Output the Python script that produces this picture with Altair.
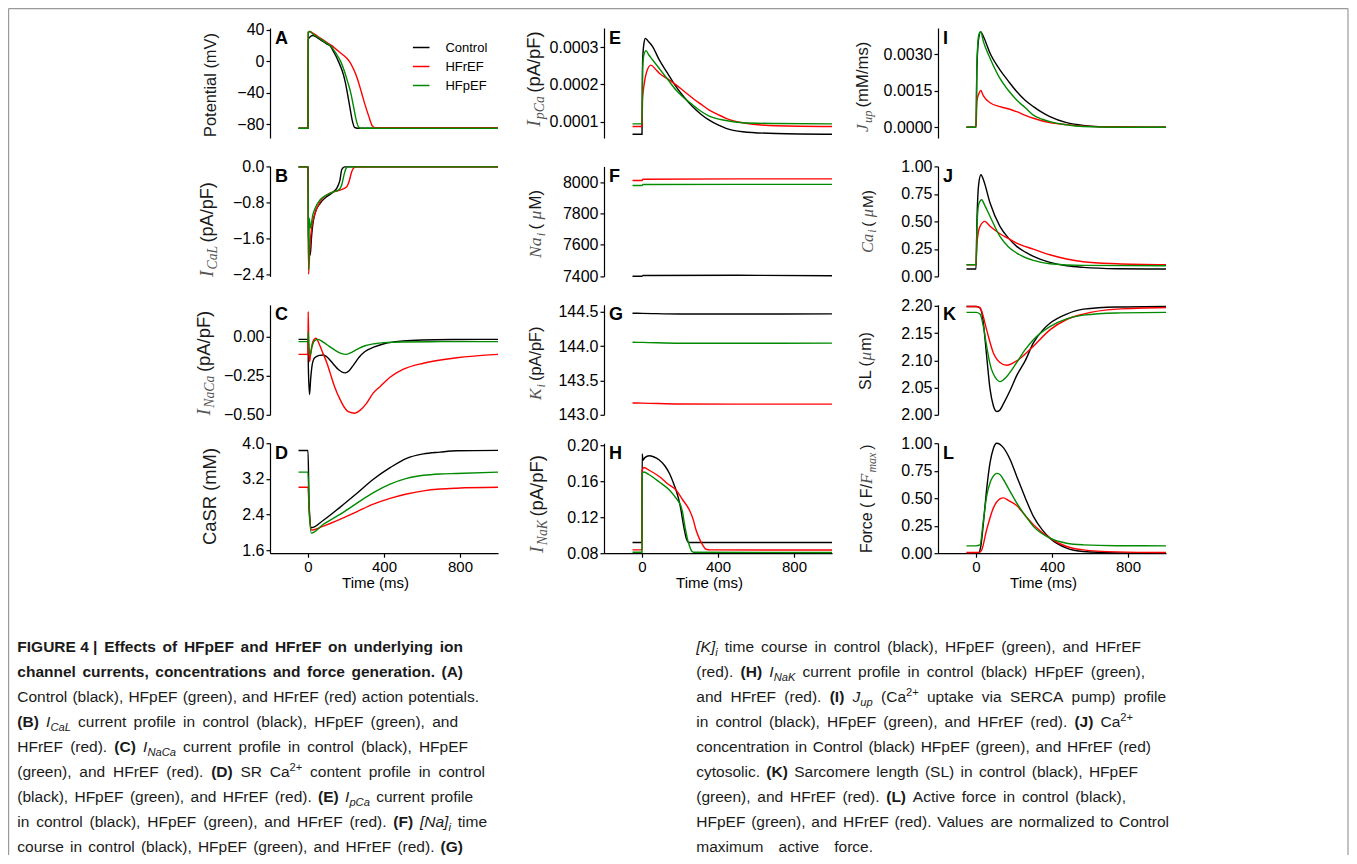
import altair as alt
import pandas as pd

# ------------------------------------------------------------------ data
SERIES = ["Control", "HFrEF", "HFpEF"]
COLORS = ["#000000", "#ff0000", "#008a00"]
TIME_DOMAIN = [-200, 1000]
TIME_TICKS = [0, 400, 800]

# (A) membrane potential, mV
A_T_CTRL = [-50, 0, 1, 10, 25, 50, 75, 100, 116, 140, 160, 180, 195, 207, 220, 232, 245, 260, 1000]
A_V_CTRL = [-85, -85, 28, 31, 33, 30, 26, 22, 20, 10, 0, -12, -25, -40, -58, -74, -84, -85, -85]
A_T_HFR = [-50, 0, 1, 10, 25, 50, 75, 100, 125, 150, 175, 200, 218, 240, 260, 282, 300, 320, 338, 355, 1000]
A_V_HFR = [-85, -85, 37, 38, 36, 32, 28, 24, 20, 15, 10, 5, 0, -10, -22, -40, -55, -70, -82, -84.5, -84.5]
A_T_HFP = [-50, 0, 1, 10, 25, 50, 75, 100, 119, 145, 172, 195, 210, 225, 240, 255, 268, 280, 1000]
A_V_HFP = [-85, -85, 37, 38, 35, 31, 27, 23, 20, 11, 0, -15, -27, -40, -58, -76, -84, -85, -85]

# (B) I_CaL, pA/pF
B_T_CTRL = [-50, 0, 2, 8, 12, 18, 25, 37, 63, 98, 133, 151, 160, 168, 177, 186, 195, 1000]
B_V_CTRL = [0, 0, -1.5, -1.9, -1.97, -1.6, -1.3, -1.04, -0.82, -0.67, -0.56, -0.48, -0.4, -0.3, -0.07, -0.015, 0, 0]
B_T_HFR = [-50, 0, 3, 10, 19, 37, 63, 98, 133, 168, 203, 212, 218, 230, 242, 256, 1000]
B_V_HFR = [0, 0, -2.4, -1.78, -1.37, -1.04, -0.78, -0.63, -0.56, -0.52, -0.45, -0.38, -0.3, -0.11, -0.02, 0, 0]
B_T_HFP = [-50, 0, 3, 7, 12, 25, 37, 63, 98, 133, 160, 177, 189, 200, 212, 1000]
B_V_HFP = [0, 0, -2.3, -1.15, -1.37, -1.08, -0.93, -0.74, -0.63, -0.56, -0.52, -0.41, -0.19, -0.04, 0, 0]

# (C) I_NaCa, pA/pF
C_T_CTRL = [-50, 0, 2, 8, 14, 22, 35, 60, 81, 100, 130, 160, 195, 215, 240, 270, 300, 350, 400, 450, 500, 600, 800, 1000]
C_V_CTRL = [-0.017, -0.017, -0.2, -0.37, -0.27, -0.18, -0.135, -0.12, -0.117, -0.13, -0.17, -0.21, -0.232, -0.22,
            -0.18, -0.13, -0.095, -0.065, -0.045, -0.034, -0.027, -0.021, -0.018, -0.017]
C_T_HFR = [-50, 0, 1, 4, 8, 13, 20, 30, 42, 60, 80, 100, 116, 140, 168, 190, 212, 247, 275, 309, 344, 379, 432,
           500, 607, 782, 1000]
C_V_HFR = [-0.113, -0.113, 0.16, -0.05, -0.16, -0.12, -0.06, -0.02, -0.01, -0.05, -0.11, -0.17, -0.23, -0.32,
           -0.40, -0.45, -0.48, -0.49, -0.47, -0.425, -0.36, -0.32, -0.26, -0.21, -0.17, -0.135, -0.113]
C_T_HFP = [-50, 0, 1, 4, 12, 20, 35, 54, 80, 110, 140, 170, 203, 230, 260, 300, 350, 400, 500, 700, 1000]
C_V_HFP = [-0.032, -0.032, 0.03, -0.05, -0.117, -0.07, -0.025, -0.017, -0.035, -0.06, -0.085, -0.105, -0.113,
           -0.1, -0.08, -0.058, -0.045, -0.038, -0.034, -0.032, -0.032]

# (D) CaSR, mM
D_T = [-50, 0, 6, 18, 81, 168, 256, 344, 432, 519, 607, 695, 782, 1000]
D_V_CTRL = [3.835, 3.835, 2.6, 2.10, 2.27, 2.56, 2.87, 3.19, 3.45, 3.66, 3.76, 3.80, 3.83, 3.84]
D_V_HFR = [3.01, 3.01, 2.5, 2.05, 2.14, 2.29, 2.46, 2.63, 2.76, 2.86, 2.93, 2.97, 2.99, 3.01]
D_V_HFP = [3.35, 3.35, 2.5, 1.98, 2.18, 2.40, 2.65, 2.89, 3.08, 3.21, 3.28, 3.31, 3.32, 3.35]

# (E) I_pCa, pA/pF
E_T_CTRL = [-50, 0, 3, 10, 18, 30, 56, 91, 135, 179, 223, 267, 310, 354, 400, 442, 530, 705, 1000]
E_V_CTRL = [6.6e-5, 6.6e-5, 2.6e-4, 3.1e-4, 3.24e-4, 3.18e-4, 3.02e-4, 2.66e-4, 2.3e-4, 1.94e-4, 1.65e-4,
            1.4e-4, 1.2e-4, 1.04e-4, 9.1e-5, 8.2e-5, 7.3e-5, 6.8e-5, 6.6e-5]
E_T_HFR = [-50, 0, 3, 12, 25, 47, 70, 91, 135, 179, 223, 267, 310, 354, 400, 442, 530, 705, 1000]
E_V_HFR = [8.7e-5, 8.7e-5, 1.6e-4, 2.03e-4, 2.35e-4, 2.52e-4, 2.42e-4, 2.3e-4, 2.15e-4, 1.99e-4, 1.81e-4,
           1.63e-4, 1.47e-4, 1.31e-4, 1.19e-4, 1.09e-4, 9.7e-5, 8.9e-5, 8.7e-5]
E_T_HFP = [-50, 0, 3, 10, 21, 35, 56, 91, 135, 179, 223, 267, 310, 354, 442, 530, 705, 1000]
E_V_HFP = [9.4e-5, 9.4e-5, 2.4e-4, 2.8e-4, 2.91e-4, 2.8e-4, 2.66e-4, 2.43e-4, 2.14e-4, 1.85e-4, 1.63e-4,
           1.45e-4, 1.28e-4, 1.15e-4, 1.03e-4, 9.7e-5, 9.5e-5, 9.4e-5]

# (F) Na_i, uM
F_T = [-50, 0, 5, 500, 1000]
F_V_CTRL = [7399, 7399, 7404, 7405, 7402]
F_V_HFR = [8011, 8011, 8019, 8021, 8021]
F_V_HFP = [7979, 7979, 7985, 7986, 7986]

# (G) K_i
G_T = [-50, 0, 200, 500, 1000]
G_V_CTRL = [144.478, 144.476, 144.466, 144.466, 144.468]
G_V_HFR = [143.172, 143.17, 143.157, 143.155, 143.155]
G_V_HFP = [144.055, 144.053, 144.04, 144.04, 144.043]

# (H) I_NaK, pA/pF
H_T_CTRL = [-50, 0, 1, 5, 15, 38, 60, 91, 120, 144, 165, 179, 193, 205, 215, 223, 232, 240, 250, 1000]
H_V_CTRL = [0.0918, 0.0918, 0.19, 0.183, 0.186, 0.188, 0.187, 0.1834, 0.177, 0.1686, 0.158, 0.150, 0.14, 0.128,
            0.115, 0.1058, 0.097, 0.093, 0.0918, 0.0918]
H_T_HFR = [-50, 0, 1, 10, 38, 91, 135, 179, 215, 249, 270, 284, 300, 319, 337, 360, 1000]
H_V_HFR = [0.0837, 0.0837, 0.172, 0.175, 0.172, 0.165, 0.157, 0.150, 0.139, 0.128, 0.117, 0.106, 0.097, 0.0892,
           0.0844, 0.0837, 0.0835]
H_T_HFP = [-50, 0, 1, 10, 38, 91, 144, 179, 205, 215, 223, 232, 240, 250, 258, 270, 1000]
H_V_HFP = [0.081, 0.081, 0.168, 0.170, 0.167, 0.159, 0.150, 0.141, 0.132, 0.124, 0.113, 0.103, 0.095, 0.088,
           0.0837, 0.081, 0.0808]

# (I) J_up, mM/ms
I_T_CTRL = [-50, 0, 5, 15, 25, 39, 74, 126, 170, 214, 260, 302, 350, 389, 477, 565, 740, 1000]
I_V_CTRL = [0, 0, 0.0025, 0.0037, 0.00393, 0.00373, 0.00304, 0.00236, 0.0019, 0.00147, 0.0011, 0.00085, 0.0006,
            0.00044, 0.00019, 0.00008, 0.00001, 0]
I_T_HFR = [-50, 0, 5, 16, 25, 39, 74, 126, 179, 214, 267, 302, 389, 477, 565, 740, 1000]
I_V_HFR = [0, 0, 0.0011, 0.0014, 0.00151, 0.00129, 0.00101, 0.00085, 0.00074, 0.00064, 0.00047, 0.00037,
           0.00019, 0.00011, 0.00005, 0.00001, 0]
I_T_HFP = [-50, 0, 5, 15, 25, 39, 74, 126, 170, 214, 260, 302, 350, 389, 477, 565, 740, 1000]
I_V_HFP = [0, 0, 0.0027, 0.0038, 0.00393, 0.00352, 0.00284, 0.00201, 0.00152, 0.00112, 0.0008, 0.0005, 0.00033,
           0.00023, 0.0001, 0.00003, 0, 0]

# (J) Ca_i, uM
J_T_CTRL = [-50, 0, 5, 15, 26, 39, 74, 126, 170, 214, 260, 302, 389, 477, 565, 740, 1000]
J_V_CTRL = [0.067, 0.067, 0.5, 0.85, 0.924, 0.879, 0.667, 0.455, 0.35, 0.273, 0.22, 0.182, 0.127, 0.097, 0.082,
            0.07, 0.067]
J_T_HFR = [-50, 0, 5, 20, 47, 74, 126, 170, 214, 302, 389, 477, 565, 740, 1000]
J_V_HFR = [0.106, 0.106, 0.3, 0.45, 0.5, 0.455, 0.388, 0.345, 0.303, 0.248, 0.197, 0.158, 0.133, 0.115, 0.106]
J_T_HFP = [-50, 0, 5, 15, 30, 45, 74, 126, 170, 214, 302, 389, 565, 1000]
J_V_HFP = [0.106, 0.106, 0.45, 0.66, 0.697, 0.65, 0.545, 0.364, 0.27, 0.212, 0.145, 0.115, 0.1, 0.097]

# (K) sarcomere length, um
K_T_CTRL = [-50, 0, 21, 30, 39, 56, 74, 91, 109, 126, 144, 180, 214, 260, 302, 350, 389, 477, 565, 740, 1000]
K_V_CTRL = [2.199, 2.199, 2.196, 2.188, 2.168, 2.108, 2.047, 2.017, 2.006, 2.009, 2.02, 2.045, 2.072, 2.10, 2.132,
            2.155, 2.168, 2.185, 2.194, 2.198, 2.199]
K_T_HFR = [-50, 0, 21, 30, 56, 91, 126, 161, 214, 260, 302, 389, 477, 565, 740, 1000]
K_V_HFR = [2.199, 2.199, 2.197, 2.19, 2.156, 2.114, 2.096, 2.091, 2.099, 2.112, 2.126, 2.156, 2.175, 2.185, 2.194,
           2.197]
K_T_HFP = [-50, 0, 21, 39, 56, 74, 109, 126, 161, 214, 260, 302, 389, 477, 565, 740, 1000]
K_V_HFP = [2.188, 2.188, 2.185, 2.162, 2.126, 2.093, 2.065, 2.061, 2.07, 2.096, 2.12, 2.138, 2.162, 2.176, 2.183,
           2.187, 2.188]

# (L) active force, F/Fmax
L_T_CTRL = [-50, 0, 12, 25, 39, 56, 74, 91, 109, 126, 144, 180, 214, 260, 302, 350, 389, 477, 565, 740, 1000]
L_V_CTRL = [0, 0, 0, 0.06, 0.274, 0.58, 0.823, 0.95, 1.0, 0.99, 0.96, 0.85, 0.70, 0.5, 0.335, 0.21, 0.137, 0.046,
            0.015, 0.003, 0]
L_T_HFR = [-50, 0, 21, 30, 56, 91, 126, 144, 170, 214, 260, 302, 389, 477, 565, 740, 1000]
L_V_HFR = [0.006, 0.006, 0.01, 0.03, 0.213, 0.41, 0.494, 0.503, 0.48, 0.433, 0.34, 0.259, 0.137, 0.061, 0.03,
           0.012, 0.006]
L_T_HFP = [-50, 0, 21, 39, 56, 74, 91, 109, 126, 144, 180, 214, 260, 302, 389, 477, 565, 740, 1000]
L_V_HFP = [0.067, 0.067, 0.075, 0.3, 0.518, 0.64, 0.70, 0.726, 0.715, 0.67, 0.56, 0.457, 0.34, 0.244, 0.137,
           0.091, 0.076, 0.068, 0.067]

# y axes: domain, tick values, tick format
Y_DOMAINS = {"A": [-97.5, 42.5], "B": [-2.45, 0.01], "C": [-0.5, 0.204], "D": [1.53, 4.0],
             "E": [0.000056, 0.000352], "F": [7398, 8101], "G": [143.0, 144.6], "H": [0.08, 0.202],
             "I": [-0.00044, 0.00408], "J": [0.0, 1.0], "K": [2.0, 2.202], "L": [0.0, 1.0]}
Y_TICKS = {"A": [-80, -40, 0, 40], "B": [-2.4, -1.6, -0.8, 0.0], "C": [-0.5, -0.25, 0.0],
           "D": [1.6, 2.4, 3.2, 4.0], "E": [0.0001, 0.0002, 0.0003], "F": [7400, 7600, 7800, 8000],
           "G": [143.0, 143.5, 144.0, 144.5], "H": [0.08, 0.12, 0.16, 0.20], "I": [0.0, 0.0015, 0.003],
           "J": [0, 0.25, 0.5, 0.75, 1.0], "K": [2.0, 2.05, 2.1, 2.15, 2.2], "L": [0, 0.25, 0.5, 0.75, 1.0]}
Y_FORMATS = {"A": "d", "B": ".1f", "C": ".2f", "D": ".1f", "E": ".4f", "F": "d", "G": ".1f", "H": ".2f",
             "I": ".4f", "J": ".2f", "K": ".2f", "L": ".2f"}

SERIES_DATA = {
    "A": ((A_T_CTRL, A_V_CTRL), (A_T_HFR, A_V_HFR), (A_T_HFP, A_V_HFP)),
    "B": ((B_T_CTRL, B_V_CTRL), (B_T_HFR, B_V_HFR), (B_T_HFP, B_V_HFP)),
    "C": ((C_T_CTRL, C_V_CTRL), (C_T_HFR, C_V_HFR), (C_T_HFP, C_V_HFP)),
    "D": ((D_T, D_V_CTRL), (D_T, D_V_HFR), (D_T, D_V_HFP)),
    "E": ((E_T_CTRL, E_V_CTRL), (E_T_HFR, E_V_HFR), (E_T_HFP, E_V_HFP)),
    "F": ((F_T, F_V_CTRL), (F_T, F_V_HFR), (F_T, F_V_HFP)),
    "G": ((G_T, G_V_CTRL), (G_T, G_V_HFR), (G_T, G_V_HFP)),
    "H": ((H_T_CTRL, H_V_CTRL), (H_T_HFR, H_V_HFR), (H_T_HFP, H_V_HFP)),
    "I": ((I_T_CTRL, I_V_CTRL), (I_T_HFR, I_V_HFR), (I_T_HFP, I_V_HFP)),
    "J": ((J_T_CTRL, J_V_CTRL), (J_T_HFR, J_V_HFR), (J_T_HFP, J_V_HFP)),
    "K": ((K_T_CTRL, K_V_CTRL), (K_T_HFR, K_V_HFR), (K_T_HFP, K_V_HFP)),
    "L": ((L_T_CTRL, L_V_CTRL), (L_T_HFR, L_V_HFR), (L_T_HFP, L_V_HFP)),
}

# y-axis titles: (text, kind) with kind sans / it (serif italic) / sub (serif italic subscript)
Y_TITLES = {
    "A": [("Potential (mV)", "sans")],
    "B": [("I", "it"), ("CaL", "sub"), (" (pA/pF)", "sans")],
    "C": [("I", "it"), ("NaCa", "sub"), (" (pA/pF)", "sans")],
    "D": [("CaSR (mM)", "sans")],
    "E": [("I", "it"), ("pCa", "sub"), (" (pA/pF)", "sans")],
    "F": [("Na", "it"), ("i", "sub"), (" (", "sans"), ("\u03bc", "it"), ("M)", "sans")],
    "G": [("K", "it"), ("i", "sub"), (" (pA/pF)", "sans")],
    "H": [("I", "it"), ("NaK", "sub"), (" (pA/pF)", "sans")],
    "I": [("J", "it"), ("up", "sub"), (" (mM/ms)", "sans")],
    "J": [("Ca", "it"), ("i", "sub"), (" (", "sans"), ("\u03bc", "it"), ("M)", "sans")],
    "K": [("SL (", "sans"), ("\u03bc", "it"), ("m)", "sans")],
    "L": [("Force ( F/", "sans"), ("F", "it"), ("max", "sub"), (" )", "sans")],
}

# caption text ("*" bold word, "/" italic word, "_" subscript, "^" superscript, "~" kept space)
CAPTION_LEFT = [
    "*FIGURE~4~| *Effects *of *HFpEF *and *HFrEF *on *underlying *ion",
    "*channel *currents, *concentrations *and *force *generation. *(A)",
    "Control (black), HFpEF (green), and HFrEF (red) action potentials.",
    "*(B) /I_CaL current profile in control (black), HFpEF (green), and",
    "HFrEF (red). *(C) /I_NaCa current profile in control (black), HFpEF",
    "(green), and HFrEF (red). *(D) SR Ca^2+ content profile in control",
    "(black), HFpEF (green), and HFrEF (red). *(E) /I_pCa current profile",
    "in control (black), HFpEF (green), and HFrEF (red). *(F) /[Na]_i time",
    "course in control (black), HFpEF (green), and HFrEF (red). *(G)",
]
CAPTION_RIGHT = [
    "/[K]_i time course in control (black), HFpEF (green), and HFrEF",
    "(red). *(H) /I_NaK current profile in control (black) HFpEF (green),",
    "and HFrEF (red). *(I) /J_up (Ca^2+ uptake via SERCA pump) profile",
    "in control (black), HFpEF (green), and HFrEF (red). *(J) Ca^2+",
    "concentration in Control (black) HFpEF (green), and HFrEF (red)",
    "cytosolic. *(K) Sarcomere length (SL) in control (black), HFpEF",
    "(green), and HFrEF (red). *(L) Active force in control (black),",
    "HFpEF (green), and HFrEF (red). Values are normalized to Control",
    "maximum active force.",
]

# ------------------------------------------------------------------ layout / style
PW, PH = 228, 110
COL_GAP, ROW_GAP = 106, 28.4
OX, OY = 270, 28                      # page position of panel A plot area
SANS = "Liberation Sans"
SERIF = "Liberation Serif"
INK = "#1a1a1a"
MATH_INK = "#555555"
CAP_FS = 15.5
TITLE_FS = 16
MATH_FS = 17
SUB_FS = 12
SUB_GAP = 3
TITLE_K_MAX = 1.15

CAP_LEFT_X, CAP_RIGHT_X = 17.3, 696.3
CAP_LEFT_END = [463, 463, 479, 458, 468, 485, 473, 487, 463]
CAP_RIGHT_END = [1141, 1145, 1166, 1133, 1151, 1138, 1126, 1169, 873]
CAP_Y0, CAP_DY = 652, 25

# y-title placement: centre x and vertical extent (page px) of each rotated title
TITLE_X = {"A": 210, "B": 206, "C": 203, "D": 209, "E": 533, "F": 535, "G": 535, "H": 536,
           "I": 862, "J": 867, "K": 865, "L": 866}
TITLE_SPAN = {"A": (33, 137), "B": (177, 277), "C": (303, 418), "D": (445, 548), "E": (15, 138),
              "F": (190, 258), "G": (322, 400), "H": (450, 553), "I": (37, 132), "J": (190, 253),
              "K": (332, 390), "L": (440, 553)}


def _tbl(spec):
    d = {}
    for chars, w in spec:
        for c in chars:
            d[c] = w
    return d


W_SANS = _tbl([(" ,.:;/[]!ftI", 278), ("ijl", 222), ("r()-", 333), ("cksvxyzJ", 500),
               ("abdeghnopqu0123456789L", 556), ("ABEKPSVXY", 667), ("FTZ", 611),
               ("CDHNRUw", 722), ("GOQ", 778), ("mM", 833), ("W", 944), ("+", 584), ("|", 260),
               ("\u03bc", 577)])
W_BOLD = _tbl([(" ,.:;/[]!ijlI", 278), ("ft()-", 333), ("r", 389), ("z", 500),
               ("acesvxyk0123456789J", 556), ("bdghnopqu", 611), ("FTZL", 611), ("EPSVXY", 667),
               ("ABCDHKNRU", 722), ("wGOQ", 778), ("M", 833), ("m", 889), ("W", 944), ("|", 280)])
W_SERIF_IT = _tbl([(" ", 250), ("I", 333), ("CNK", 667), ("aupS\u03bc", 500), ("L", 556), ("J", 444),
                   ("i", 278), ("F", 611), ("m", 722), ("x", 444)])


def text_w(s, table, fs):
    return sum(table.get(c, 556) for c in s) * fs / 1000.0


# ------------------------------------------------------------------ overlay (titles, letters, caption, frame)
overlay_rows = []


def add_text(X, Y, text, size, kind, color=INK, angle=0):
    overlay_rows.append({"px": X - OX, "py": Y - OY, "text": text, "size": size, "kind": kind,
                         "color": color, "angle": angle})


letters = [["A", "E", "I"], ["B", "F", "J"], ["C", "G", "K"], ["D", "H", "L"]]
for r in range(4):
    for c in range(3):
        add_text(OX + c * (PW + COL_GAP) + 5, OY + r * (PH + ROW_GAP) + 15.5, letters[r][c], 18, "bold",
                 color="#000000")


def title_pieces(segs, k):
    out = []
    for text, kind in segs:
        if kind == "sans":
            fs = TITLE_FS * k
            out.append((text, fs, text_w(text, W_SANS, fs), "sans", 0, INK))
        elif kind == "it":
            fs = MATH_FS * k
            out.append((text, fs, text_w(text, W_SERIF_IT, fs) + 1 * k, "serif", 0, MATH_INK))
        else:
            fs = SUB_FS * k
            out.append((text, fs, text_w(text, W_SERIF_IT, fs) + SUB_GAP * k, "serif", 4 * k, MATH_INK))
    return out


for key, segs in Y_TITLES.items():
    y0, y1 = TITLE_SPAN[key]
    natural = sum(p[2] for p in title_pieces(segs, 1.0))
    k = min((y1 - y0) / natural, TITLE_K_MAX)
    pieces = title_pieces(segs, k)
    total = sum(p[2] for p in pieces)
    y = (y0 + y1) / 2.0 + total / 2.0
    cx = TITLE_X[key]
    for text, fs, w, kind, shift, col in pieces:
        add_text(cx + 0.36 * TITLE_FS * k + shift, y, text, fs, kind, color=col, angle=270)
        y -= w


def parse_word(w):
    w = w.replace("~", " ")
    if w.startswith("*"):
        return [(w[1:], "bold", 0)]
    if w.startswith("/"):
        body = w[1:]
        if "_" in body:
            a, b = body.split("_", 1)
            return [(a, "ital", 0), (b, "ital", 1)]
        return [(body, "ital", 0)]
    if "^" in w:
        a, b = w.split("^", 1)
        return [(a, "sans", 0), (b, "sans", -1)]
    return [(w, "sans", 0)]


def piece_w(text, kind, pos):
    fs = CAP_FS if pos == 0 else CAP_FS * 0.72
    return text_w(text, W_BOLD if kind == "bold" else W_SANS, fs)


def layout_caption(lines, x0, ends):
    for i, (line, x1) in enumerate(zip(lines, ends)):
        words = [parse_word(w) for w in line.split(" ")]
        widths = [sum(piece_w(t, k, p) for t, k, p in word) for word in words]
        gap = (x1 - x0 - sum(widths)) / max(len(words) - 1, 1)
        gap = max(gap, 3.0)
        x = x0
        y = CAP_Y0 + i * CAP_DY
        for word, ww in zip(words, widths):
            xx = x
            for t, k, p in word:
                fs = CAP_FS if p == 0 else CAP_FS * 0.72
                dy = 0 if p == 0 else (4 if p == 1 else -6)
                add_text(xx, y + dy, t, fs, k)
                xx += piece_w(t, k, p)
            x += ww + gap


layout_caption(CAPTION_LEFT, CAP_LEFT_X, CAP_LEFT_END)
layout_caption(CAPTION_RIGHT, CAP_RIGHT_X, CAP_RIGHT_END)

overlay_df = pd.DataFrame(overlay_rows)

FRAME_L, FRAME_T, FRAME_R, FRAME_B = 8.6, 8.6, 1348, 855
frame_df = pd.DataFrame({
    "x1": [FRAME_L - OX, FRAME_L - OX, FRAME_R - OX],
    "x2": [FRAME_L - OX, FRAME_R - OX, FRAME_R - OX],
    "y1": [FRAME_T - OY, FRAME_T - OY, FRAME_T - OY],
    "y2": [FRAME_B - OY, FRAME_T - OY, FRAME_B - OY],
})


def overlay_layers():
    layers = [alt.Chart(frame_df).mark_rule(color="#9a9a9a", strokeWidth=1.2).encode(
        x=alt.X("x1:Q", scale=None, axis=None), x2="x2:Q",
        y=alt.Y("y1:Q", scale=None, axis=None), y2="y2:Q")]
    styles = {"sans": dict(font=SANS), "bold": dict(font=SANS, fontWeight="bold"),
              "ital": dict(font=SANS, fontStyle="italic"), "serif": dict(font=SERIF, fontStyle="italic")}
    for kind, st in styles.items():
        layers.append(
            alt.Chart(overlay_df).transform_filter(alt.datum.kind == kind)
            .mark_text(align="left", baseline="alphabetic", **st)
            .encode(x=alt.X("px:Q", scale=None, axis=None), y=alt.Y("py:Q", scale=None, axis=None),
                    text="text:N", size=alt.Size("size:Q", scale=None),
                    color=alt.Color("color:N", scale=None), angle=alt.Angle("angle:Q", scale=None)))
    return layers


# ------------------------------------------------------------------ panels
def y_axis(key):
    return alt.Axis(values=Y_TICKS[key], format=Y_FORMATS[key], title=None, grid=False,
                    domainColor="black", domainWidth=1.2, tickColor="black", tickWidth=1.2, tickSize=4,
                    labelFont=SANS, labelFontSize=16, labelColor="black", labelPadding=2,
                    labelFlush=False, labelOverlap=False)


def x_axis():
    return alt.Axis(values=TIME_TICKS, format="d", title="Time (ms)", grid=False,
                    domainColor="black", domainWidth=1.2, tickColor="black", tickWidth=1.2, tickSize=4,
                    labelFont=SANS, labelFontSize=15, labelColor="black", labelPadding=2, labelFlush=False,
                    titleFont=SANS, titleFontSize=15, titleFontWeight="normal", titleColor="black",
                    titleX=105, titleY=34, titleAlign="center", titleBaseline="alphabetic", titleAngle=0)


def panel(key, bottom):
    rows = []
    for name, (ts, vs) in zip(SERIES, SERIES_DATA[key]):
        for t, v in zip(ts, vs):
            rows.append({"t": t, "v": v, "s": name})
    df = pd.DataFrame(rows)
    legend = None
    if key == "A":
        legend = alt.Legend(orient="none", legendX=141.7, legendY=10, title=None, symbolType="stroke",
                            symbolSize=275, symbolStrokeWidth=1.5, labelFont=SANS, labelFontSize=13,
                            labelColor="black", labelOffset=14.7, rowPadding=2, padding=0)
    return alt.Chart(df).mark_line(strokeWidth=1.4, interpolate="monotone").encode(
        x=alt.X("t:Q", scale=alt.Scale(domain=TIME_DOMAIN, nice=False, zero=False),
                axis=x_axis() if bottom else None),
        y=alt.Y("v:Q", scale=alt.Scale(domain=Y_DOMAINS[key], nice=False, zero=False), axis=y_axis(key)),
        color=alt.Color("s:N", scale=alt.Scale(domain=SERIES, range=COLORS), legend=legend,
                        sort=SERIES),
    ).properties(width=PW, height=PH)


cells = []
for r in range(4):
    for c in range(3):
        key = letters[r][c]
        ch = panel(key, bottom=(r == 3))
        if key == "A":
            ch = alt.layer(ch, *overlay_layers()).properties(width=PW, height=PH)
        cells.append(ch)

chart = alt.ConcatChart(
    concat=cells, columns=3, spacing={"row": ROW_GAP, "column": COL_GAP}, bounds="flush", padding=0
).resolve_scale(x="independent", y="independent", color="independent").configure_view(stroke=None)

chart.save("out.html", embed_options={"renderer": "svg", "actions": False})
